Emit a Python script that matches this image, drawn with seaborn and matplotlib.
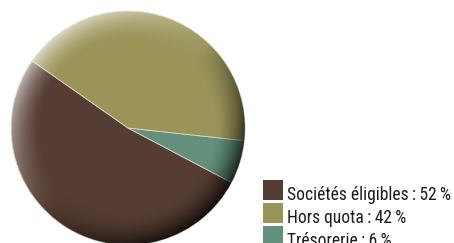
import numpy as np
import matplotlib
matplotlib.use('Agg')
import matplotlib.pyplot as plt
import seaborn as sns
from matplotlib.patches import Circle, Rectangle
from matplotlib import font_manager

# data
labels = ['Sociétés éligibles', 'Hors quota', 'Trésorerie']
shares = [52, 42, 6]
colors = ['#563d33', '#9a9459', '#62907a']

sns.set_theme(style='white')
names = {f.name for f in font_manager.fontManager.ttflist}
narrow = [n for n in ['Liberation Sans Narrow', 'Roboto Condensed', 'Open Sans Condensed',
                      'DejaVu Sans Condensed'] if n in names]
plt.rcParams['font.family'] = narrow + ['DejaVu Sans']

W, H = 454, 243
fig = plt.figure(figsize=(W / 100, H / 100), dpi=100)

# pie axes: centre (128,128) px from top-left, radius 117 px
cx, cy, R = 128, 128, 117
ax = fig.add_axes([(cx - R) / W, (H - cy - R) / H, 2 * R / W, 2 * R / H])

# draw order: brown, green, olive counter-clockwise from upper left
order = [0, 2, 1]
wedges, _ = ax.pie([shares[i] for i in order], colors=[colors[i] for i in order],
                   startangle=145, counterclock=True, radius=1,
                   wedgeprops=dict(edgecolor='#ddd8c4', linewidth=0.6))
ax.set_xlim(-1, 1)
ax.set_ylim(-1, 1)
ax.set_aspect('equal')
ax.axis('off')

# bevel shading: light rim top-left, dark rim bottom-right
n = 400
xs = np.linspace(-1, 1, n)
X, Y = np.meshgrid(xs, xs[::-1])
r = np.hypot(X, Y)
th = np.arctan2(Y, X)
d = np.cos(th - np.deg2rad(135))
rim = np.clip((r - 0.74) / 0.26, 0, 1) ** 1.6
light = rim * np.clip(d, 0, 1) * 0.65
dark = rim * np.clip(-d, 0, 1) ** 0.7 * 0.78
img = np.zeros((n, n, 4))
img[..., :3] = np.where(d[..., None] > 0, 1.0, 0.0)
img[..., 3] = np.where(d > 0, light, dark)
clip = Circle((0, 0), 1, transform=ax.transData)
im = ax.imshow(img, extent=(-1, 1, -1, 1), zorder=3, interpolation='bilinear')
im.set_clip_path(clip)

# legend
rows = [200, 223, 246]
texts = []
for lab, val, col, base in zip(labels, shares, colors, rows):
    fig.add_artist(Rectangle((263 / W, (H - base) / H), 20 / W, 20 / H,
                             transform=fig.transFigure, facecolor=col, edgecolor='none'))
    texts.append(fig.text(287 / W, (H - base) / H, f'{lab}\u2009:\u2009{val}\u2009%',
                          fontsize=13, color='#1e1b1b', va='baseline', ha='left'))

# fit the longest label into the space on the right
rend = fig.canvas.get_renderer()
wid = texts[0].get_window_extent(rend).width
fs = 13 * 164 / wid
for t in texts:
    t.set_fontsize(fs)

fig.savefig('out.png', dpi=100)
